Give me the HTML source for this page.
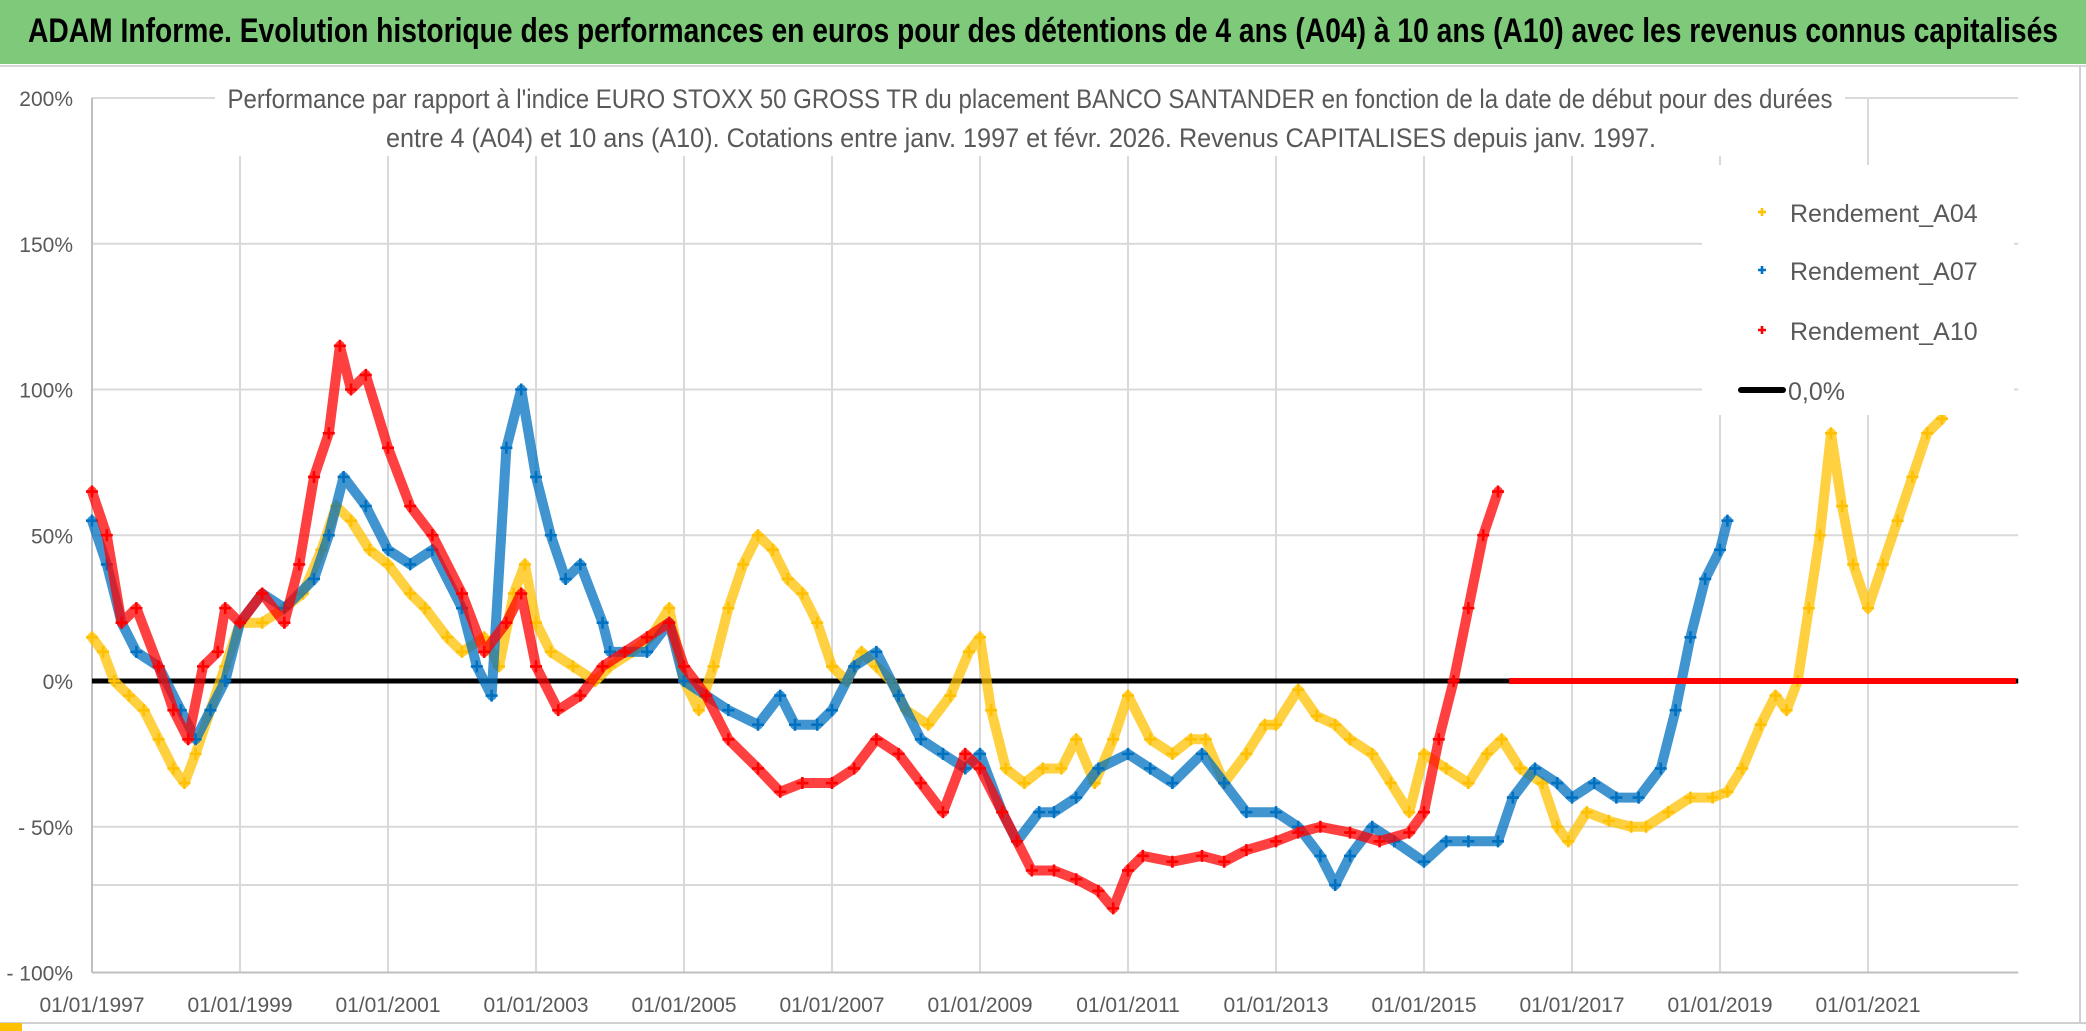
<!DOCTYPE html>
<html><head><meta charset="utf-8"><style>
html,body{margin:0;padding:0;background:#fff;}
svg{display:block;}
</style></head><body>
<svg id="chart" width="2086" height="1031" viewBox="0 0 2086 1031" xmlns="http://www.w3.org/2000/svg">
  <rect x="0" y="0" width="2086" height="1031" fill="#fff"/>
  <rect x="0" y="0" width="2086" height="64" fill="#7fc97b"/>
  <line x1="0" y1="66" x2="2086" y2="66" stroke="#d8d8d8" stroke-width="2"/>
  <text x="1043" y="42" text-anchor="middle" font-family="Liberation Sans, sans-serif" font-weight="bold" font-size="34" textLength="2030" lengthAdjust="spacingAndGlyphs" fill="#000">ADAM Informe. Evolution historique des performances en euros pour des détentions de 4 ans (A04) à 10 ans (A10) avec les revenus connus capitalisés</text>
  <line x1="2080" y1="66" x2="2080" y2="1022" stroke="#d0d0d0" stroke-width="2"/>
  <line x1="0" y1="1023" x2="2086" y2="1023" stroke="#d0d0d0" stroke-width="2"/>
  <rect x="0" y="1023" width="22" height="8" fill="#ffc000"/>
  <g id="grid"></g>
  <g id="axes"></g>
  <g id="series"></g>
  <rect x="215" y="76" width="1630" height="80" fill="#fff"/>
  <text x="1030" y="108" text-anchor="middle" font-family="Liberation Sans, sans-serif" font-size="27" fill="#595959" textLength="1605" lengthAdjust="spacingAndGlyphs">Performance par rapport à l'indice EURO STOXX 50 GROSS TR  du placement BANCO SANTANDER en fonction de la date de début pour des durées</text>
  <text x="1021" y="147" text-anchor="middle" font-family="Liberation Sans, sans-serif" font-size="27" fill="#595959" textLength="1270" lengthAdjust="spacingAndGlyphs">entre 4 (A04) et 10 ans (A10). Cotations entre janv. 1997 et févr. 2026. Revenus CAPITALISES depuis janv. 1997.</text>
  <g id="legend"></g>
</svg>
<script>
const NS = "http://www.w3.org/2000/svg";
const yTicks = [200, 150, 100, 50, 0, -50, -100];
const yTickLabels = ["200%", "150%", "100%", "50%", "0%", "- 50%", "- 100%"];
const extraGrid = [-70];
const xTickYears = [1997, 1999, 2001, 2003, 2005, 2007, 2009, 2011, 2013, 2015, 2017, 2019, 2021];
const xTickLabels = ["01/01/1997","01/01/1999","01/01/2001","01/01/2003","01/01/2005","01/01/2007","01/01/2009","01/01/2011","01/01/2013","01/01/2015","01/01/2017","01/01/2019","01/01/2021"];

const a04Dates = [1997.0,1997.15,1997.3,1997.5,1997.7,1997.9,1998.1,1998.25,1998.4,1998.6,1998.8,1999.0,1999.3,1999.6,1999.85,2000.1,2000.3,2000.5,2000.75,2001.0,2001.3,2001.5,2001.8,2002.0,2002.3,2002.5,2002.7,2002.85,2003.0,2003.2,2003.5,2003.8,2004.0,2004.3,2004.55,2004.8,2005.0,2005.2,2005.4,2005.6,2005.8,2006.0,2006.2,2006.4,2006.6,2006.8,2007.0,2007.2,2007.4,2007.6,2007.8,2008.0,2008.3,2008.6,2008.85,2009.0,2009.15,2009.35,2009.6,2009.85,2010.1,2010.3,2010.55,2010.8,2011.0,2011.3,2011.6,2011.85,2012.05,2012.3,2012.6,2012.85,2013.0,2013.3,2013.55,2013.8,2014.0,2014.3,2014.55,2014.8,2015.0,2015.3,2015.6,2015.85,2016.05,2016.3,2016.6,2016.8,2016.95,2017.2,2017.5,2017.8,2018.0,2018.3,2018.6,2018.9,2019.1,2019.3,2019.55,2019.75,2019.9,2020.05,2020.2,2020.35,2020.5,2020.65,2020.8,2021.0,2021.2,2021.4,2021.6,2021.8,2022.0];
const a04Vals = [15,10,0,-5,-10,-20,-30,-35,-25,-10,5,20,20,25,30,45,60,55,45,40,30,25,15,10,15,5,30,40,20,10,5,0,5,10,15,25,0,-10,5,25,40,50,45,35,30,20,5,0,10,5,0,-10,-15,-5,10,15,-10,-30,-35,-30,-30,-20,-35,-20,-5,-20,-25,-20,-20,-35,-25,-15,-15,-3,-12,-15,-20,-25,-35,-45,-25,-30,-35,-25,-20,-30,-35,-50,-55,-45,-48,-50,-50,-45,-40,-40,-38,-30,-15,-5,-10,0,25,50,85,60,40,25,40,55,70,85,90];
const a04ZeroFrom = 2022.2;

const a07Dates = [1997.0,1997.2,1997.4,1997.6,1997.9,1998.2,1998.4,1998.6,1998.8,1999.0,1999.3,1999.6,2000.0,2000.2,2000.4,2000.7,2001.0,2001.3,2001.6,2002.0,2002.2,2002.4,2002.6,2002.8,2003.0,2003.2,2003.4,2003.6,2003.9,2004.0,2004.5,2004.8,2005.0,2005.3,2005.6,2006.0,2006.3,2006.5,2006.8,2007.0,2007.3,2007.6,2007.9,2008.2,2008.5,2008.8,2009.0,2009.3,2009.5,2009.8,2010.0,2010.3,2010.6,2011.0,2011.3,2011.6,2012.0,2012.3,2012.6,2013.0,2013.3,2013.6,2013.8,2014.0,2014.3,2014.6,2015.0,2015.3,2015.6,2016.0,2016.2,2016.5,2016.8,2017.0,2017.3,2017.6,2017.9,2018.2,2018.4,2018.6,2018.8,2019.0,2019.1];
const a07Vals = [55,40,20,10,5,-10,-20,-10,0,20,30,25,35,50,70,60,45,40,45,25,5,-5,80,100,70,50,35,40,20,10,10,20,0,-5,-10,-15,-5,-15,-15,-10,5,10,-5,-20,-25,-30,-25,-45,-55,-45,-45,-40,-30,-25,-30,-35,-25,-35,-45,-45,-50,-60,-70,-60,-50,-55,-62,-55,-55,-55,-40,-30,-35,-40,-35,-40,-40,-30,-10,15,35,45,55];
const a07ZeroFrom = 2019.15;

const a10Dates = [1997.0,1997.2,1997.4,1997.6,1997.9,1998.1,1998.3,1998.5,1998.7,1998.8,1999.0,1999.3,1999.6,1999.8,2000.0,2000.2,2000.35,2000.5,2000.7,2001.0,2001.3,2001.6,2002.0,2002.3,2002.6,2002.8,2003.0,2003.3,2003.6,2003.9,2004.2,2004.5,2004.8,2005.0,2005.3,2005.6,2006.0,2006.3,2006.6,2007.0,2007.3,2007.6,2007.9,2008.2,2008.5,2008.8,2009.0,2009.3,2009.5,2009.7,2010.0,2010.3,2010.6,2010.8,2011.0,2011.2,2011.6,2012.0,2012.3,2012.6,2013.0,2013.3,2013.6,2014.0,2014.4,2014.8,2015.0,2015.2,2015.4,2015.6,2015.8,2016.0];
const a10Vals = [65,50,20,25,5,-10,-20,5,10,25,20,30,20,40,70,85,115,100,105,80,60,50,30,10,20,30,5,-10,-5,5,10,15,20,5,-5,-20,-30,-38,-35,-35,-30,-20,-25,-35,-45,-25,-30,-45,-55,-65,-65,-68,-72,-78,-65,-60,-62,-60,-62,-58,-55,-52,-50,-52,-55,-52,-45,-20,0,25,50,65];
const a10ZeroFrom = 2016.15;
const seriesEnd = 2023.0;

const X0 = 92, PX_PER_YEAR = 74, Y0 = 681, PX_PER_PCT = 2.915;
function xs(yr){ return X0 + (yr - 1997) * PX_PER_YEAR; }
function ys(v){ return Y0 - v * PX_PER_PCT; }
const PLOT_RIGHT = xs(seriesEnd + 0.03);

function mk(tag, attrs, parent){
  const e = document.createElementNS(NS, tag);
  for (const k in attrs) e.setAttribute(k, attrs[k]);
  parent.appendChild(e);
  return e;
}
const grid = document.getElementById('grid');
const axes = document.getElementById('axes');
const series = document.getElementById('series');
const legend = document.getElementById('legend');

yTicks.concat(extraGrid).forEach(function(v){
  if (v === -100) return;
  const l = mk('line', {x1: X0, x2: PLOT_RIGHT, y1: ys(v), y2: ys(v), stroke: '#d9d9d9', 'stroke-width': 2}, grid);
  
  
});
xTickYears.forEach(function(yr){
  if (yr === 1997) return;
  const l = mk('line', {x1: xs(yr), x2: xs(yr), y1: ys(200), y2: ys(-100), stroke: '#d9d9d9', 'stroke-width': 2}, grid);
  
  
});
const ya = mk('line', {x1: X0, x2: X0, y1: ys(200), y2: ys(-100), stroke: '#bfbfbf', 'stroke-width': 2}, axes);


const xa = mk('line', {x1: X0, x2: PLOT_RIGHT, y1: ys(-100), y2: ys(-100), stroke: '#bfbfbf', 'stroke-width': 2}, axes);



yTicks.forEach(function(v, i){
  const t = mk('text', {x: 73, y: ys(v) + 8, 'text-anchor': 'end', 'font-family': 'Liberation Sans, sans-serif', 'font-size': 21, fill: '#595959'}, axes);
  t.textContent = yTickLabels[i];
  
  
});
xTickYears.forEach(function(yr, i){
  const t = mk('text', {x: xs(yr), y: 1012, 'text-anchor': 'middle', 'font-family': 'Liberation Sans, sans-serif', 'font-size': 21, fill: '#595959'}, axes);
  t.textContent = xTickLabels[i];
  
  
});

const zl = mk('line', {x1: X0, x2: PLOT_RIGHT, y1: ys(0), y2: ys(0), stroke: '#000', 'stroke-width': 5}, series);



function plus(g, x, y, color, s){
  const p = mk('path', {d: 'M'+(x-s)+' '+y+'H'+(x+s)+'M'+x+' '+(y-s)+'V'+(y+s), stroke: color, 'stroke-width': 2.6, fill: 'none'}, g);
  
  
}
function drawSeries(name, dates, vals, zeroFrom, color){
  const g = mk('g', {}, series);
  
  
  let d = '';
  dates.forEach(function(yr, i){ d += (i ? 'L' : 'M') + xs(yr).toFixed(1) + ' ' + ys(vals[i]).toFixed(1); });
  const band = mk('path', {d: d, stroke: color, 'stroke-width': 10, fill: 'none', 'stroke-linejoin': 'round', 'stroke-linecap': 'round', opacity: 0.75}, g);
  
  
  dates.forEach(function(yr, i){ plus(g, xs(yr), ys(vals[i]), color, 6); });
  const z = mk('line', {x1: xs(zeroFrom), x2: xs(seriesEnd), y1: ys(0), y2: ys(0), stroke: color, 'stroke-width': 6}, g);
  
  
}
drawSeries('series-a04', a04Dates, a04Vals, a04ZeroFrom, '#ffc000');
drawSeries('series-a07', a07Dates, a07Vals, a07ZeroFrom, '#0070c0');
drawSeries('series-a10', a10Dates, a10Vals, a10ZeroFrom, '#ff0000');

const lbg = mk('rect', {x: 1702, y: 165, width: 312, height: 250, fill: '#fff'}, legend);


const legNames = ['Rendement_A04', 'Rendement_A07', 'Rendement_A10'];
const legColors = ['#ffc000', '#0070c0', '#ff0000'];
const legY = [212, 270, 330];
legNames.forEach(function(n, i){
  plus(legend, 1762, legY[i], legColors[i], 4);
  const t = mk('text', {x: 1790, y: legY[i] + 10, 'font-family': 'Liberation Sans, sans-serif', 'font-size': 25, fill: '#595959'}, legend);
  t.textContent = n;
  
  
});
const ll = mk('line', {x1: 1741, x2: 1783, y1: 390, y2: 390, stroke: '#000', 'stroke-width': 6, 'stroke-linecap': 'round'}, legend);


const lt = mk('text', {x: 1788, y: 400, 'font-family': 'Liberation Sans, sans-serif', 'font-size': 25, fill: '#595959'}, legend);
lt.textContent = '0,0%';


</script>
</body></html>
